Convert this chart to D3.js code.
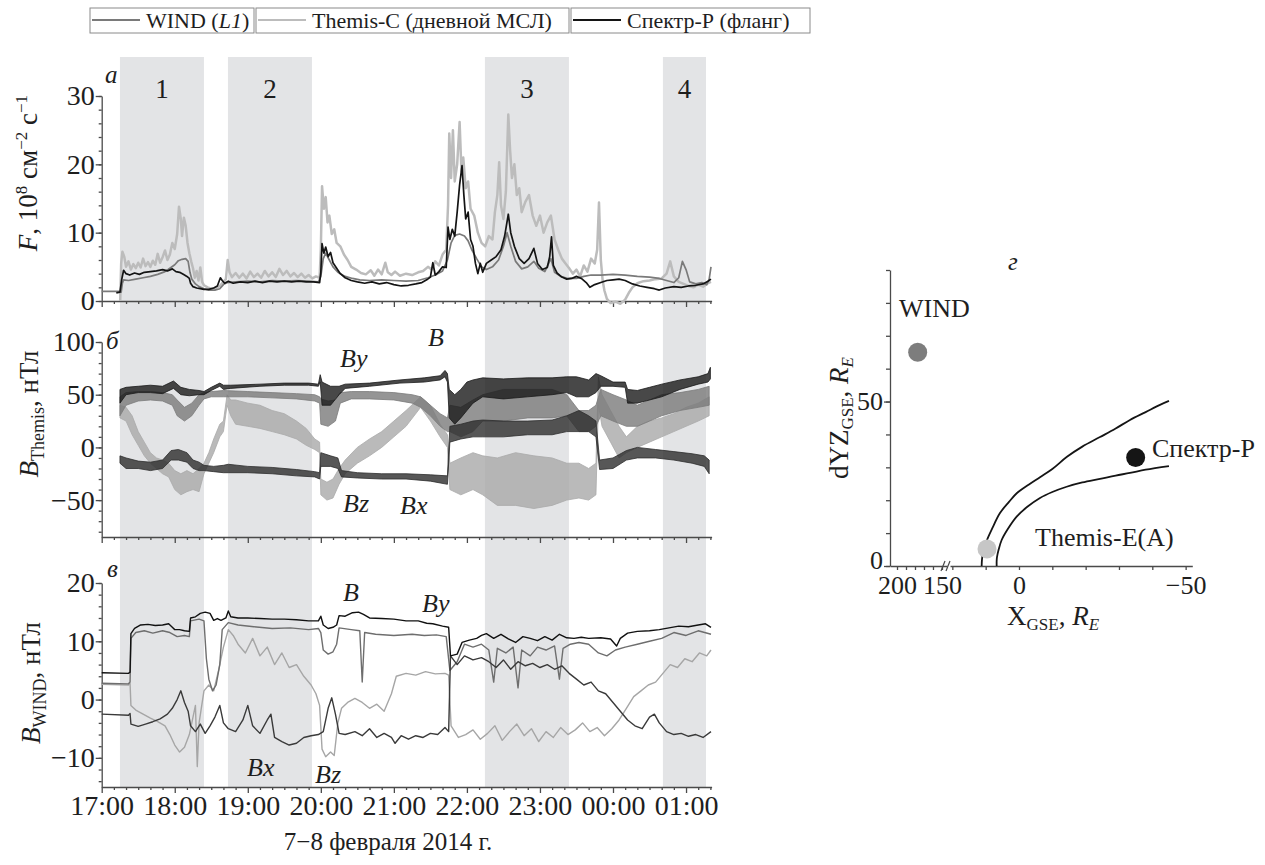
<!DOCTYPE html>
<html>
<head>
<meta charset="utf-8">
<script src="https://cdn.jsdelivr.net/npm/d3@7"></script>
<style>
  body { margin: 0; background: #fff; }
  svg text { font-family: "Liberation Serif", "Times New Roman", serif; fill: #1e1e1e; }
</style>
</head>
<body>
<svg id="chart" width="1265" height="865"></svg>
<script>
// ---------- data (time in minutes after 17:00, 7 Feb 2014) ----------
const hourTicks = [0, 60, 120, 180, 240, 300, 360, 420, 480];
const hourLabels = ["17:00", "18:00", "19:00", "20:00", "21:00", "22:00", "23:00", "00:00", "01:00"];
const shadedIntervals = [[15, 84], [103.7, 172.7], [314.8, 383.8], [461, 496.4]];
const shadedNames = ["1", "2", "3", "4"];

// panel a: particle flux F, 10^8 cm^-2 s^-1
const windF = [[0,1.4],[14,1.4],[16,1.3],[17,2.6],[18,3.1],[22,3.0],[28,3.2],[34,3.4],[40,3.6],[46,3.9],[52,4.3],[56,4.8],[60,5.3],[63,5.9],[66,6.1],[69,6.2],[71,5.8],[72.5,4.2],[74,3.2],[77,2.5],[80,2.1],[84,1.8],[88,1.6],[93,1.6],[97,1.8],[100,2.4],[103,2.7],[110,2.8],[120,2.9],[130,2.8],[140,3.0],[150,2.9],[160,3.0],[170,2.9],[178,2.8],[180,3.6],[182,6.2],[184,7.0],[187,6.0],[190,5.0],[194,4.2],[200,3.6],[206,3.3],[212,3.1],[220,3.0],[230,3.1],[240,3.0],[250,2.9],[260,3.0],[268,3.4],[274,3.8],[280,4.4],[284,6],[287,8.5],[290,9.6],[294,9.8],[298,9.5],[301,8.8],[304,7.5],[308,6.2],[312,5.0],[316,4.6],[321,5.0],[326,6.0],[330,8.0],[333,10.0],[336,8.0],[340,5.8],[345,4.7],[350,5.0],[355,5.8],[359,4.8],[364,4.3],[369,6.2],[372,4.2],[377,3.6],[383,3.3],[390,3.3],[396,3.6],[402,3.8],[410,3.8],[420,3.9],[430,3.8],[440,3.6],[450,3.5],[458,3.3],[464,3.0],[470,2.7],[474,3.4],[477,5.8],[480,4.6],[483,2.8],[488,2.5],[493,2.7],[497,2.4],[499,3.2],[500.5,5.0]];
const themisF = [[15.2,0],[16,5.5],[17,7.2],[18.5,6.5],[20,5.0],[22,5.8],[24,4.6],[26,5.4],[28,4.8],[30,5.6],[32,4.9],[34,6.2],[36,5.1],[38,5.7],[40,5.0],[42,5.9],[44,5.3],[46,6.9],[48,5.6],[50,6.4],[52,7.4],[54,6.0],[56,6.8],[58,8.5],[60,7.6],[62,9.8],[63.5,13.8],[65,12.0],[66,9.5],[67.5,12.2],[69,11.0],[70.5,8.5],[72,7.0],[73.5,5.8],[75,4.8],[76.5,3.4],[78,4.4],[79.5,3.0],[81,4.9],[82.5,2.8],[84,2.3],[87,2.0],[90,1.8],[94,1.9],[97,2.2],[100,2.8],[102,3.2],[103.5,6.0],[105,4.2],[107,3.5],[110,4.1],[113,3.4],[116,4.0],[119,3.3],[122,4.3],[125,3.5],[128,4.0],[131,3.4],[134,4.4],[137,3.6],[140,4.2],[143,3.5],[146,4.7],[149,3.8],[152,4.4],[155,3.6],[158,4.1],[161,3.5],[164,4.0],[167,3.4],[170,3.8],[173,3.3],[176,3.6],[179,3.4],[180,7.5],[181,16.8],[182.5,13.5],[184,15.2],[185.5,11.5],[187,12.5],[189,9.8],[191,10.5],[193,8.5],[196,8.0],[199,6.8],[202,6.0],[205,5.0],[209,4.6],[213,4.1],[217,3.9],[221,4.5],[224,3.7],[227,4.6],[230,3.9],[233,5.6],[235,4.2],[238,3.8],[241,4.3],[245,3.7],[250,4.0],[255,3.8],[260,4.2],[264,4.4],[268,5.0],[271,4.6],[274,5.8],[277,5.2],[280,6.8],[283,7.5],[284.5,14],[285.5,24.5],[287,18],[288.5,25],[290,17.5],[292,20],[294,26.2],[295.5,19],[297,21],[299,16.5],[301,17.5],[303,13.5],[306,12.5],[309,10],[312,8.5],[315,8],[318,9.5],[321,9],[323,13],[325,15.5],[326.5,20.3],[328,14],[330,12],[332,16],[334,27.3],[335.5,22],[337,18],[339,20],[341,15.5],[343,16.5],[345,13],[348,14.5],[351,15.5],[354,12.5],[357,11],[360,12.5],[363,10],[366,11.5],[369,12.5],[372,9],[375,7.5],[378,6.2],[381,5.5],[384,4.8],[387,4.0],[390,4.6],[393,3.6],[396,5.2],[399,4.3],[402,6.2],[405,5.5],[407,7.5],[408.5,14.4],[410,6],[411.5,3],[413,1.5],[415,0.3],[418,-0.3],[422,-0.1],[426,-0.4],[430,0.2],[433,1.2],[436,2.0],[440,2.6],[445,2.9],[450,3.0],[455,3.2],[460,3.3],[464,4.0],[467,5.8],[470,3.6],[474,2.8],[478,2.5],[482,2.2],[486,2.0],[490,2.4],[494,2.1],[498,2.6],[500.5,2.8]];
const spektrF = [[12,1.2],[15,1.3],[16.5,3.2],[18,4.5],[20,4.0],[23,3.8],[27,4.1],[31,3.9],[35,4.2],[40,4.3],[45,4.4],[50,4.6],[54,4.4],[58,4.7],[61,4.3],[64,4.2],[67,3.9],[70,3.6],[72,3.3],[73,2.6],[75,2.1],[78,1.9],[81,1.8],[84,1.7],[88,1.7],[92,1.9],[95,2.2],[97.5,3.4],[99,3.0],[101,2.6],[104,2.9],[108,2.6],[114,2.8],[120,2.7],[126,2.9],[132,2.7],[138,2.9],[144,2.8],[150,2.9],[156,2.8],[162,2.9],[168,2.8],[174,2.8],[179,2.7],[180,4.2],[181,8.4],[182.5,7.0],[184,7.9],[186,6.5],[188,7.1],[190,5.6],[193,4.8],[196,4.0],[200,3.4],[205,3.0],[210,2.8],[216,2.6],[222,2.8],[228,2.5],[234,2.7],[240,2.4],[246,2.2],[252,2.3],[258,2.5],[263,2.7],[267,3.1],[270,3.5],[272,5.6],[274,3.8],[277,4.3],[280,5.0],[283,4.9],[284.5,10.8],[286,9.0],[288,10.5],[290,9.5],[292,13],[294,17],[296,19.8],[297.5,15.5],[299,12],[301,13],[303,9],[305,8],[307,5.5],[309,4.0],[311,5.5],[313,4.2],[316,5.5],[320,6.0],[324,6.5],[328,7.5],[331,9.5],[334,12.7],[336,10],[339,8],[343,6.2],[347,5.5],[351,6.2],[355,7.7],[358,5.5],[362,4.6],[366,4.9],[368,6.5],[369.5,9.4],[371,5.2],[374,4.1],[378,3.5],[382,3.2],[386,3.3],[390,3.6],[394,3.3],[398,2.7],[401,2.0],[405,2.4],[410,2.7],[415,3.0],[420,3.1],[425,3.2],[430,3.0],[436,2.5],[442,2.2],[448,2.0],[454,1.8],[458,1.6],[463,1.9],[470,2.1],[476,2.0],[482,2.2],[488,2.3],[494,2.5],[498,2.9],[500.5,3.2]];

// panel b: Themis field, bands [t, low, high] in nT
const bzThemis = [[15,28,40],[20,25,38],[25,12,30],[30,2,15],[35,-8,5],[40,-15,-5],[45,-20,-10],[50,-25,-12],[55,-28,-15],[60,-40,-22],[65,-45,-25],[70,-42,-22],[75,-40,-25],[80,-42,-20],[84,-25,-15],[88,-15,-5],[92,-5,8],[97,10,22],[100,15,25],[103,40,50],[106,30,45],[110,22,45],[120,20,42],[130,18,40],[140,15,35],[150,12,32],[160,8,25],[168,2,18],[175,-2,8],[179,-5,5],[180,-45,-30],[185,-50,-33],[190,-48,-30],[195,-35,-20],[200,-25,-12],[210,-15,0],[220,-8,8],[230,0,15],[240,10,25],[250,20,35],[262,38,48],[270,25,40],[278,10,22],[284,0,12],[286,-40,-15],[295,-45,-10],[305,-40,-5],[313,-45,-8],[325,-55,-10],[340,-55,-5],[355,-58,-8],[370,-55,-10],[382,-50,-15],[392,-48,-15],[400,-50,-20],[406,-45,-15],[408,40,67],[411,20,50],[418,5,35],[425,-10,20],[431,-5,10],[440,0,20],[450,5,25],[460,10,28],[470,15,32],[480,20,38],[490,25,42],[499,30,48]];
const byThemis = [[15,30,48],[20,40,52],[30,44,53],[40,45,53],[50,44,52],[58,40,50],[62,30,45],[68,25,38],[74,30,42],[80,40,50],[84,46,52],[90,48,53],[100,48,54],[120,48,53],[140,47,52],[160,46,51],[175,44,50],[179,42,48],[180,22,46],[186,20,44],[192,25,45],[196,42,52],[205,46,53],[220,46,53],[240,45,52],[255,42,50],[262,38,48],[270,30,40],[278,20,32],[284,15,28],[286,15,40],[295,10,38],[305,15,45],[313,25,50],[330,25,55],[350,28,55],[370,28,55],[382,30,50],[392,15,35],[400,15,35],[406,20,40],[410,30,55],[420,25,50],[431,20,45],[440,20,40],[450,25,45],[460,30,50],[475,35,52],[490,38,55],[499,40,58]];
const bxThemis = [[15,-15,-8],[20,-20,-10],[30,-20,-13],[40,-22,-14],[50,-20,-12],[57,-12,-3],[63,-12,-2],[70,-14,-5],[75,-20,-12],[80,-22,-14],[84,-22,-17],[92,-23,-18],[100,-24,-17],[104,-24,-16],[120,-24,-18],[140,-25,-19],[160,-27,-21],[175,-28,-23],[179,-30,-24],[180,-18,-5],[188,-18,-8],[194,-20,-10],[197,-28,-22],[210,-29,-24],[230,-30,-25],[250,-30,-25],[270,-32,-26],[284,-35,-27],[286,5,20],[295,8,22],[305,10,25],[313,10,26],[330,10,25],[350,12,25],[370,12,26],[382,15,30],[392,15,35],[400,15,30],[406,10,25],[409,-21,-12],[420,-20,-10],[431,-12,-3],[440,-10,0],[455,-10,-2],[470,-12,-4],[485,-15,-6],[495,-18,-8],[499,-25,-12]];
const bThemis = [[15,42,55],[20,50,57],[30,52,58],[40,52,59],[50,51,58],[59,56,63],[65,50,57],[72,49,55],[80,50,54],[84,50,53],[90,54,57],[97,58,61],[100,55,59],[106,56,59],[130,58,60],[150,59,61],[170,59,61],[178,58,60],[179.5,62,69],[181,40,62],[188,40,58],[195,50,58],[200,56,60],[220,58,61],[245,61,64],[265,62,66],[278,64,68],[282,67,73],[284,62,70],[285.5,28,55],[290,22,50],[295,28,55],[300,35,62],[305,42,64],[313,48,66],[330,46,65],[350,48,66],[370,50,66],[382,52,67],[390,48,67],[400,48,64],[406,52,70],[410,58,68],[420,58,62],[430,57,62],[432,42,55],[440,42,54],[450,45,57],[460,48,60],[475,55,64],[490,60,67],[498,62,70],[500,65,76]];

// panel c: WIND field, nT
const bWind = [[0,4.6],[22,4.5],[23.3,4.7],[24,11.3],[27,12.2],[32,12.8],[38,12.9],[44,12.7],[50,12.8],[55,13.0],[58,12.4],[60,12.0],[64,12.0],[68,11.8],[72,11.7],[73,14.0],[77,14.2],[81,14.8],[85,15.0],[89,14.8],[92,13.6],[95,13.9],[98,13.6],[102,14.0],[104,15.2],[106,14.2],[112,14.0],[120,14.0],[130,13.9],[140,13.8],[150,13.8],[160,13.7],[170,13.5],[178,13.5],[180,14.3],[182,12.8],[186,12.2],[190,12.4],[193,12.8],[195,14.4],[200,14.3],[206,14.9],[211,15.0],[215,14.6],[220,14.0],[230,13.9],[240,13.8],[250,13.5],[260,13.5],[267,13.1],[272,13.0],[280,12.6],[285,12.4],[286.5,7.5],[292,7.8],[296,9.8],[302,10.2],[308,10.5],[312,11.0],[316,11.3],[322,10.5],[328,11.2],[334,10.4],[340,9.8],[346,10.8],[352,10.5],[358,10.1],[364,10.8],[370,10.2],[376,11.2],[382,10.6],[388,10.5],[394,10.7],[400,10.5],[410,10.6],[418,10.4],[423,9.2],[426,10.5],[432,11.4],[440,11.7],[450,11.8],[458,12.0],[466,12.3],[474,12.6],[482,12.5],[490,12.8],[496,13.0],[500.5,12.4]];
const byWind = [[0,2.8],[22,2.7],[23.3,3.0],[24,10.5],[28,11.5],[35,11.8],[42,11.4],[50,11.8],[56,11.5],[62,10.8],[68,11.0],[72,10.8],[73,13.5],[80,13.8],[84,13.5],[86,7],[88,3.5],[91,1.5],[94,2.5],[97,6],[99,12],[104,13.2],[112,12.8],[125,12.5],[140,12.2],[155,12.3],[170,12.0],[178,12.2],[180,11.5],[182,8.5],[186,7.8],[190,8.2],[193,9.5],[195,12.3],[205,12.0],[212,11.8],[214,3],[216,11.5],[225,11.2],[240,11.0],[255,11.2],[265,11.0],[275,11.1],[283,10.8],[286,5],[292,6.5],[298,9.5],[305,9.0],[312,9.5],[318,8.5],[322,3],[325,8.8],[332,8.0],[338,9.0],[342,2],[345,8.5],[352,7.5],[358,9.0],[365,8.5],[372,9.2],[376,3.5],[379,8.8],[385,9.5],[392,9.8],[400,9.5],[408,8.0],[415,7.5],[422,8.5],[430,9.0],[440,9.5],[450,10.0],[460,10.5],[470,11.5],[480,11.0],[490,11.8],[500.5,11.2]];
const bzWind = [[0,2.6],[22,2.5],[23.3,2.8],[24,-1.0],[28,-1.8],[34,-2.5],[40,-3.2],[46,-3.8],[52,-4.5],[56,-6],[60,-7.8],[64,-9.0],[68,-8.2],[72,-6.0],[75,-3],[77,-1],[78.5,-11.5],[80,-4],[84,1.5],[88,2.5],[92,1.5],[96,5],[100,9],[104,12],[108,11],[112,9.5],[118,8],[124,10.5],[130,7.5],[136,9],[142,6],[148,8],[154,5.5],[160,6],[166,4],[172,2.5],[176,1],[179,-1],[181,-8.5],[184,-9.8],[188,-9.0],[191,-9.6],[194,-4],[197,-1.5],[202,-0.5],[208,0.2],[214,-0.5],[220,-1.5],[226,-0.8],[232,-2.0],[238,1.0],[242,4.0],[250,4.5],[258,4.2],[266,4.8],[274,4.4],[282,4.5],[285,4.2],[287,-4.5],[293,-6.5],[299,-6.0],[305,-5.2],[311,-6.8],[317,-5.8],[323,-4.5],[329,-7.0],[335,-5.5],[341,-4.2],[347,-6.2],[353,-5.0],[359,-7.2],[365,-5.5],[371,-6.5],[377,-4.8],[383,-6.0],[389,-5.2],[395,-4.0],[401,-5.5],[407,-4.8],[413,-6.2],[419,-5.0],[425,-3.5],[431,-1.5],[437,0.5],[443,1.5],[449,2.5],[455,3.0],[461,4.5],[467,6.0],[473,5.5],[479,7.0],[485,6.5],[491,8.0],[497,7.5],[500.5,8.5]];
const bxWind = [[0,-2.5],[22,-2.7],[23.3,-2.4],[24,-4.2],[30,-4.6],[36,-4.2],[42,-3.8],[48,-3.3],[54,-2.5],[58,-1.5],[62,0],[65,1.5],[68,-0.5],[71,-2],[73,-4.5],[77,-5.5],[81,-4.2],[85,-5.8],[89,-4.5],[93,-3],[97,-1],[100,-4],[104,-5.0],[110,-5.5],[116,-3.5],[120,-1.0],[124,-4.5],[130,-5.8],[136,-3.5],[139,-2.5],[142,-6.5],[148,-7.2],[154,-7.8],[160,-7.5],[166,-6.5],[172,-6.2],[178,-6.0],[182,-5.5],[186,-1.5],[189,0.3],[192,-2.5],[195,-5.8],[200,-6.0],[208,-5.5],[214,-6.2],[220,-5.0],[226,-6.5],[232,-5.8],[238,-6.5],[241,-7.5],[246,-6.2],[252,-6.8],[258,-6.2],[264,-6.5],[270,-5.8],[276,-6.0],[282,-4.8],[285,-5.5],[286.5,7.5],[292,6.0],[298,7.5],[305,6.8],[312,7.2],[318,6.5],[324,5.5],[330,6.8],[336,5.2],[342,6.5],[348,5.8],[354,6.2],[360,5.5],[366,6.0],[372,5.2],[378,5.8],[384,4.5],[390,3.5],[396,2.5],[402,3.0],[408,1.5],[414,1.0],[420,-0.5],[426,-2.0],[432,-3.5],[438,-4.5],[444,-5.0],[450,-3.0],[454,-2.5],[458,-4.0],[464,-5.5],[470,-6.0],[476,-5.8],[482,-6.3],[488,-6.0],[494,-6.5],[500.5,-5.5]];

// panel d: spacecraft positions and boundaries, R_E
const bowShock = [[11.2,0],[11.1,2],[10.8,4],[9.6,7.9],[8,11.5],[5.7,16.1],[3,19.5],[0.6,22.2],[-3,24.8],[-6.3,27],[-10,29.5],[-14.4,33.2],[-19,36.3],[-24.3,39.2],[-29,41.8],[-33.3,44.4],[-38,46.8],[-42.3,49],[-45,50.2]];
const magnetopause = [[6.7,0],[6.7,1.5],[6.6,2.7],[6.1,5],[5.2,7.9],[3.5,11],[0.7,15],[-2.5,18],[-6.3,20.7],[-10,22.5],[-14.3,24.1],[-19,25.4],[-24.3,26.5],[-29,27.5],[-33.3,28.3],[-38,29.3],[-45,30.4]];
const craftNames = ["WIND", "Themis-C", "Спектр-Р"];
const craftX = [177, 9.6, -35];
const craftY = [65, 5.2, 33];

// ---------- drawing ----------
const svg = d3.select("#chart");
const serif = '"Liberation Serif", "Times New Roman", serif';
const axisColor = "#4a4a4a";

const x = d3.scaleLinear().domain([0, 501]).range([101.7, 711.6]);

const panels = [
  { y: d3.scaleLinear().domain([0, 30]).range([301, 96]), major: [0, 10, 20, 30], minor: d3.range(0, 31, 2) },
  { y: d3.scaleLinear().domain([-85, 100]).range([537, 342]), major: [-50, 0, 50, 100], minor: d3.range(-80, 101, 10) },
  { y: d3.scaleLinear().domain([-15, 20]).range([787, 583]), major: [-10, 0, 10, 20], minor: d3.range(-14, 21, 2) }
];

const fmtNum = d => d < 0 ? "\u2212" + Math.abs(d) : String(d);

// shaded intervals
svg.append("g").selectAll("rect")
  .data(shadedIntervals)
  .join("rect")
  .attr("x", d => x(d[0]))
  .attr("width", d => x(d[1]) - x(d[0]))
  .attr("y", 57)
  .attr("height", 787 - 57)
  .attr("fill", "#e3e4e6");

svg.append("g").selectAll("text")
  .data(shadedIntervals)
  .join("text")
  .attr("x", d => x((d[0] + d[1]) / 2))
  .attr("y", 98)
  .attr("text-anchor", "middle")
  .attr("font-size", 27)
  .text((d, i) => shadedNames[i]);

function styleAxis(g, fontSize) {
  g.attr("font-family", serif).attr("font-size", fontSize);
  g.selectAll("path, line").attr("stroke", axisColor).attr("stroke-width", 1.3);
  g.selectAll("text").attr("fill", "#1e1e1e");
}

// axes for time panels
panels.forEach((p, i) => {
  const last = i === panels.length - 1;
  const y0 = p.y.range()[0];

  const gxm = svg.append("g").attr("transform", `translate(0,${y0})`)
    .call(d3.axisBottom(x).tickValues(d3.range(0, 501, 10).filter(v => v % 60 !== 0))
      .tickSize(3).tickSizeOuter(0).tickFormat(""));
  styleAxis(gxm, 10);
  gxm.select(".domain").remove();

  const gx = svg.append("g").attr("transform", `translate(0,${y0})`)
    .call(d3.axisBottom(x).tickValues(hourTicks).tickSize(6).tickSizeOuter(0).tickPadding(2)
      .tickFormat((d, k) => last ? hourLabels[k] : ""));
  styleAxis(gx, 28);

  const gym = svg.append("g").attr("transform", `translate(${x(0)},0)`)
    .call(d3.axisLeft(p.y).tickValues(p.minor).tickSize(3).tickFormat(""));
  styleAxis(gym, 10);
  gym.select(".domain").remove();

  const gy = svg.append("g").attr("transform", `translate(${x(0)},0)`)
    .call(d3.axisLeft(p.y).tickValues(p.major).tickSize(6).tickSizeOuter(0).tickPadding(1).tickFormat(fmtNum));
  styleAxis(gy, 28);
});

// panel a lines
const pa = panels[0];
const lineA = d3.line().x(d => x(d[0])).y(d => pa.y(d[1]));
[[themisF, "#bcbcbc", 2.5], [windF, "#7a7a7a", 1.7], [spektrF, "#141414", 1.7]].forEach(([data, color, w]) => {
  svg.append("path").datum(data).attr("d", lineA)
    .attr("fill", "none").attr("stroke", color).attr("stroke-width", w).attr("stroke-linejoin", "round");
});

// panel b bands
const pb = panels[1];
const areaB = d3.area().x(d => x(d[0])).y0(d => pb.y(d[1])).y1(d => pb.y(d[2]));
[[bzThemis, "#a9a9a9"], [byThemis, "#7b7b7b"], [bxThemis, "#2d2d2d"], [bThemis, "#1a1a1a"]].forEach(([data, color]) => {
  svg.append("path").datum(data).attr("d", areaB)
    .attr("fill", color).attr("fill-opacity", 0.8)
    .attr("stroke", color).attr("stroke-width", 0.8);
});

// panel c lines
const pc = panels[2];
const lineC = d3.line().x(d => x(d[0])).y(d => pc.y(d[1]));
[[bzWind, "#a6a6a6"], [byWind, "#6e6e6e"], [bxWind, "#3a3a3a"], [bWind, "#111"]].forEach(([data, color]) => {
  svg.append("path").datum(data).attr("d", lineC)
    .attr("fill", "none").attr("stroke", color).attr("stroke-width", 1.4).attr("stroke-linejoin", "round");
});

// panel letters and component labels
function italicText(tx, ty, str, size) {
  return svg.append("text").attr("x", tx).attr("y", ty).attr("font-size", size)
    .attr("font-style", "italic").text(str);
}
italicText(105, 83, "a", 25);
italicText(106, 349, "б", 25);
italicText(107, 577, "в", 25);
italicText(340, 367, "By", 26);
italicText(428, 346, "B", 26);
italicText(343, 512, "Bz", 26);
italicText(400, 514, "Bx", 26);
italicText(343, 601, "B", 26);
italicText(422, 612, "By", 26);
italicText(247, 776, "Bx", 26);
italicText(315, 783, "Bz", 26);

// y labels
function yLabel(cx, cy, parts, size) {
  const t = svg.append("text").attr("transform", `translate(${cx},${cy}) rotate(-90)`)
    .attr("text-anchor", "middle").attr("font-size", size || 27);
  parts.forEach(p => {
    const s = t.append("tspan").text(p.t);
    if (p.size) s.attr("font-size", p.size);
    if (p.dy) s.attr("dy", p.dy);
    if (p.it) s.attr("font-style", "italic");
  });
}
yLabel(37, 173, [{ t: "F", it: true }, { t: ", 10" }, { t: "8", size: 17, dy: -10 }, { t: " см", dy: 10 },
  { t: "−2", size: 17, dy: -10 }, { t: " с", dy: 10 }, { t: "−1", size: 17, dy: -10 }]);
yLabel(38, 414, [{ t: "B", it: true }, { t: "Themis", size: 18, dy: 6 }, { t: ", нТл", dy: -6 }]);
yLabel(40, 683, [{ t: "B", it: true }, { t: "WIND", size: 18, dy: 6 }, { t: ", нТл", dy: -6 }]);

svg.append("text").attr("x", 388).attr("y", 850).attr("text-anchor", "middle")
  .attr("font-size", 25).text("7\u22128 февраля 2014 г.");

// legend
const legendItems = [
  { name: ["WIND (", "L1", ")"], color: "#7a7a7a", x0: 90, x1: 254 },
  { name: ["Themis-C (дневной МСЛ)"], color: "#bcbcbc", x0: 256, x1: 569 },
  { name: ["Спектр-Р (фланг)"], color: "#141414", x0: 571, x1: 810 }
];
const lg = svg.append("g");
legendItems.forEach(it => {
  lg.append("rect").attr("x", it.x0).attr("y", 8).attr("width", it.x1 - it.x0).attr("height", 25)
    .attr("fill", "none").attr("stroke", "#8a8a8a").attr("stroke-width", 1);
  lg.append("line").attr("x1", it.x0 + 2).attr("x2", it.x0 + 50).attr("y1", 20).attr("y2", 20)
    .attr("stroke", it.color).attr("stroke-width", 2);
  const t = lg.append("text").attr("x", it.x0 + 56).attr("y", 28).attr("font-size", 22);
  it.name.forEach((s, k) => {
    const sp = t.append("tspan").text(s);
    if (it.name.length > 1 && k === 1) sp.attr("font-style", "italic");
  });
});

// ---------- panel d: positions ----------
const yG = d3.scaleLinear().domain([0, 90]).range([566, 270]);
const xGL = d3.scaleLinear().domain([207.8, 144.4]).range([890, 947]);
const xGR = d3.scaleLinear().domain([20.7, -52]).range([950, 1192.3]);

const gyd = svg.append("g").attr("transform", "translate(890,0)")
  .call(d3.axisLeft(yG).tickValues(d3.range(0, 91, 10)).tickSize(4).tickSizeOuter(0).tickFormat(""));
styleAxis(gyd, 10);
const gyd2 = svg.append("g").attr("transform", "translate(890,0)")
  .call(d3.axisLeft(yG).tickValues([0, 50]).tickSize(6).tickSizeOuter(0).tickPadding(1).tickFormat(fmtNum));
styleAxis(gyd2, 26);
gyd2.select(".domain").remove();
gyd2.selectAll(".tick text").attr("dy", d => d === 0 ? "0.1em" : "0.32em");

const gxl = svg.append("g").attr("transform", "translate(0,566)")
  .call(d3.axisBottom(xGL).tickValues(d3.range(150, 201, 10)).tickSize(4).tickSizeOuter(0)
    .tickPadding(6).tickFormat(d => (d === 200 || d === 150) ? String(d) : ""));
styleAxis(gxl, 26);
const gxr = svg.append("g").attr("transform", "translate(0,566)")
  .call(d3.axisBottom(xGR).tickValues(d3.range(-50, 21, 10)).tickSize(4).tickSizeOuter(0)
    .tickPadding(6).tickFormat(d => (d === 0 || d === -50) ? fmtNum(d) : ""));
styleAxis(gxr, 26);

// axis break mark
[943, 948].forEach(bx => {
  svg.append("line").attr("x1", bx - 2).attr("y1", 571).attr("x2", bx + 2).attr("y2", 561)
    .attr("stroke", axisColor).attr("stroke-width", 1.2);
});

const lineG = d3.line().x(d => xGR(d[0])).y(d => yG(d[1])).curve(d3.curveCatmullRom);
[bowShock, magnetopause].forEach(c => {
  svg.append("path").datum(c).attr("d", lineG)
    .attr("fill", "none").attr("stroke", "#151515").attr("stroke-width", 1.8);
});

const craftColors = ["#7d7d7d", "#c6c6c6", "#151515"];
craftNames.forEach((n, i) => {
  const cx = i === 0 ? xGL(craftX[i]) : xGR(craftX[i]);
  svg.append("circle").attr("cx", cx).attr("cy", yG(craftY[i])).attr("r", 9.5).attr("fill", craftColors[i]);
});

svg.append("text").attr("x", 899).attr("y", 317).attr("font-size", 26).text("WIND");
svg.append("text").attr("x", 1152).attr("y", 457).attr("font-size", 26).text("Спектр-Р");
svg.append("text").attr("x", 1035).attr("y", 546).attr("font-size", 26).text("Themis-E(A)");
italicText(1008, 270, "г", 25);

const xl = svg.append("text").attr("x", 1007).attr("y", 625).attr("font-size", 27);
xl.append("tspan").text("X");
xl.append("tspan").text("GSE").attr("font-size", 17).attr("dy", 5);
xl.append("tspan").text(", ").attr("dy", -5);
xl.append("tspan").text("R").attr("font-style", "italic");
xl.append("tspan").text("E").attr("font-size", 17).attr("font-style", "italic").attr("dy", 5);

yLabel(848, 418, [{ t: "dYZ" }, { t: "GSE", size: 17, dy: 5 }, { t: ", ", dy: -5 }, { t: "R", it: true },
  { t: "E", size: 17, dy: 5, it: true }]);
</script>
</body>
</html>
